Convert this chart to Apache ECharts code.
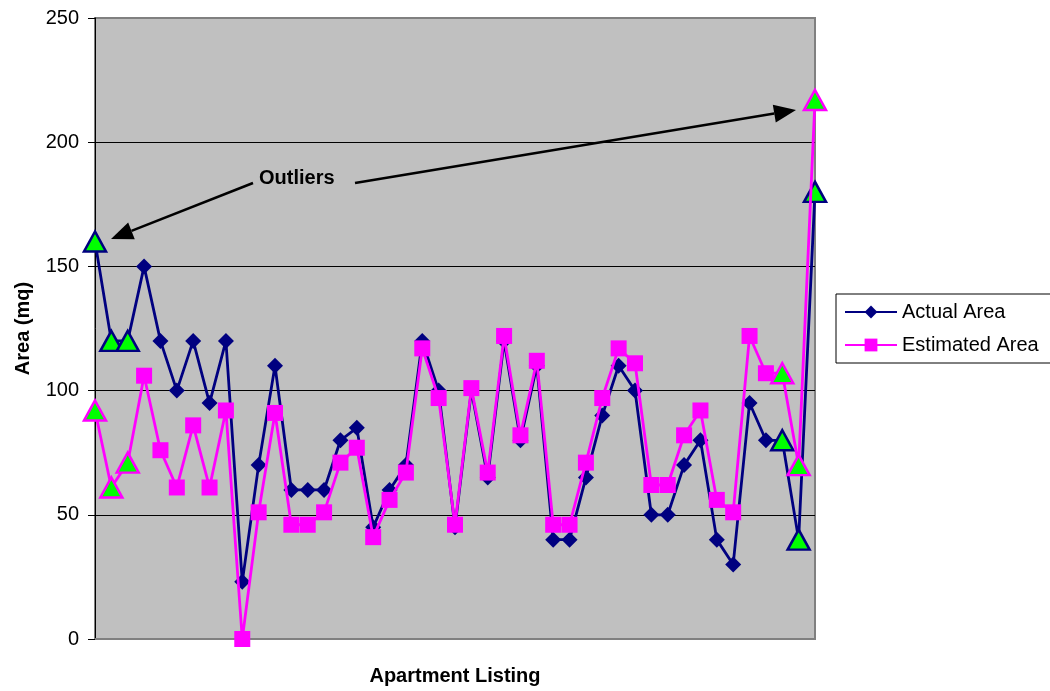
<!DOCTYPE html>
<html>
<head>
<meta charset="utf-8">
<script src="https://cdn.jsdelivr.net/npm/echarts@6/dist/echarts.min.js"></script>
<style>
  html, body { margin: 0; padding: 0; background: #fff; }
  #chart { width: 1050px; height: 691px; }
</style>
</head>
<body>
<div id="chart"></div>
<script>
// Apartment listings (1..45)
const listings = ['1','2','3','4','5','6','7','8','9','10','11','12','13','14','15',
  '16','17','18','19','20','21','22','23','24','25','26','27','28','29','30',
  '31','32','33','34','35','36','37','38','39','40','41','42','43','44','45'];

// Actual floor area (mq)
const actualArea = [160,120,120,150,120,100,120,95,120,23,70,110,60,60,60,
  80,85,45,60,70,120,100,45,100,65,120,80,110,40,40,
  65,90,110,100,50,50,70,80,40,30,95,80,80,40,180];

// Estimated floor area (mq)
const estimatedArea = [92,61,71,106,76,61,86,61,92,0,51,91,46,46,51,
  71,77,41,56,67,117,97,46,101,67,122,82,112,46,46,
  71,97,117,111,62,62,82,92,56,51,122,107,107,70,217];

// Listings flagged as outliers
const outlierIdx = [0, 1, 2, 42, 43, 44];

const yTicks = [0, 50, 100, 150, 200, 250];

const FONT = 'Liberation Sans, Arial, sans-serif';
const NAVY = '#000080';
const MAGENTA = '#FF00FF';
const OUTLIER_FILL = '#00FF00';

function buildData(values, color) {
  return values.map((v, i) => {
    if (outlierIdx.indexOf(i) >= 0) {
      return {
        value: v,
        symbol: 'triangle',
        symbolSize: [22, 20],
        itemStyle: { color: OUTLIER_FILL, borderColor: color, borderWidth: 2.5 }
      };
    }
    return v;
  });
}

const chart = echarts.init(document.getElementById('chart'), null, { renderer: 'canvas' });

const gridLeft = 95, gridTop = 18, gridRight = 235, gridBottom = 51;

// arrow from (x1,y1) to tip (x2,y2) with a filled head
function arrow(x1, y1, x2, y2) {
  const dx = x2 - x1, dy = y2 - y1;
  const len = Math.sqrt(dx * dx + dy * dy);
  const ux = dx / len, uy = dy / len;
  const headLen = 22, headHalf = 9;
  const bx = x2 - ux * headLen, by = y2 - uy * headLen;
  const px = -uy, py = ux;
  return [
    { type: 'line', shape: { x1: x1, y1: y1, x2: bx, y2: by },
      style: { stroke: '#000', lineWidth: 2.5 }, z: 100 },
    { type: 'polygon',
      shape: { points: [[x2, y2], [bx + px * headHalf, by + py * headHalf], [bx - px * headHalf, by - py * headHalf]] },
      style: { fill: '#000' }, z: 100 }
  ];
}

const option = {
  animation: false,
  backgroundColor: '#ffffff',
  textStyle: { fontFamily: FONT },
  grid: {
    left: gridLeft, top: gridTop, right: gridRight, bottom: gridBottom,
    show: true, backgroundColor: '#C0C0C0', borderColor: '#808080', borderWidth: 2
  },
  legend: {
    left: 836, top: 294,
    orient: 'vertical',
    itemWidth: 52, itemHeight: 16, itemGap: 13,
    padding: [8, 40, 8, 8],
    borderColor: '#000', borderWidth: 1,
    textStyle: { fontFamily: FONT, fontSize: 20, color: '#000' },
    data: ['Actual Area', 'Estimated Area']
  },
  xAxis: {
    type: 'category',
    data: listings,
    boundaryGap: false,
    name: 'Apartment Listing',
    nameLocation: 'middle',
    nameGap: 27,
    nameTextStyle: { fontFamily: FONT, fontSize: 20, fontWeight: 'bold', color: '#000' },
    axisLine: { show: true, lineStyle: { color: '#808080', width: 2 } },
    axisTick: { show: false },
    axisLabel: { show: false },
    splitLine: { show: false }
  },
  yAxis: {
    type: 'value',
    min: yTicks[0], max: yTicks[yTicks.length - 1], interval: 50,
    name: 'Area (mq)',
    nameLocation: 'middle',
    nameGap: 62,
    nameRotate: 90,
    nameTextStyle: { fontFamily: FONT, fontSize: 20, fontWeight: 'bold', color: '#000' },
    axisLine: { show: true, lineStyle: { color: '#000', width: 1 } },
    axisTick: { show: true, length: 7, lineStyle: { color: '#000' } },
    axisLabel: { fontFamily: FONT, fontSize: 20, color: '#000', margin: 16 },
    splitLine: { show: true, lineStyle: { color: ['#808080', '#000', '#000', '#000', '#000', '#808080'], width: 1 } }
  },
  series: [
    {
      name: 'Actual Area',
      type: 'line',
      data: buildData(actualArea, NAVY),
      symbol: 'diamond',
      symbolSize: 16,
      showAllSymbol: true,
      lineStyle: { color: NAVY, width: 2.8 },
      itemStyle: { color: NAVY },
      z: 3
    },
    {
      name: 'Estimated Area',
      type: 'line',
      data: buildData(estimatedArea, MAGENTA),
      symbol: 'rect',
      symbolSize: 16,
      showAllSymbol: true,
      lineStyle: { color: MAGENTA, width: 2.8 },
      itemStyle: { color: MAGENTA },
      z: 4
    }
  ],
  graphic: [
    { type: 'text', left: 259, top: 168, z: 100,
      style: { text: 'Outliers', fontFamily: FONT, fontSize: 20, fontWeight: 'bold', fill: '#000' } }
  ].concat(arrow(253, 183, 111, 239)).concat(arrow(355, 183, 796, 110))
};

chart.setOption(option);
</script>
</body>
</html>
